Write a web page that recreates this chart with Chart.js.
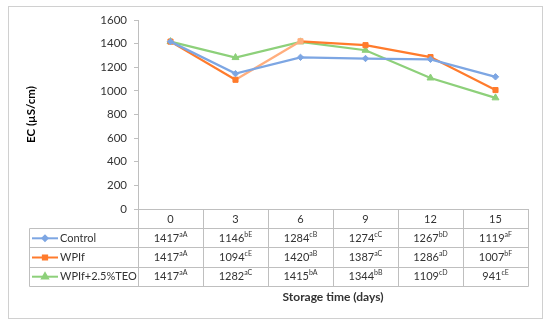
<!DOCTYPE html>
<html><head><meta charset="utf-8">
<script src="https://cdn.jsdelivr.net/npm/chart.js@4.4.0/dist/chart.umd.min.js"></script>
<style>html,body{margin:0;padding:0;background:#fff}#c{display:block}</style>
</head><body>
<div style="width:550px;height:323px"><canvas id="c" width="550" height="323"></canvas></div>
<script>
const categories = ['0','3','6','9','12','15'];
const seriesNames = ['Control','WPIf','WPIf+2.5%TEO'];
const controlValues = [1417,1146,1284,1274,1267,1119];
const wpifValues = [1417,1094,1420,1387,1286,1007];
const teoValues = [1417,1282,1415,1344,1109,941];
const controlLetters = ['aA','bE','cB','cC','bD','aF'];
const wpifLetters = ['aA','cE','aB','aC','aD','bF'];
const teoLetters = ['aA','aC','bA','bB','cD','cE'];
const yTicks = [0,200,400,600,800,1000,1200,1400,1600];
const yTitle = 'EC (µS/cm)';
const xTitle = 'Storage time (days)';

const FONT = 'Lato, "Open Sans", sans-serif';
const GRID = '#bfbfbf';
const TEXT = '#333333';
const colors = ['#7DA6E3','#FF7B2C','#8DD07A'];
const shapes = ['rectRot','rect','triangle'];
const radii = [3.2,3.6,4];
const letters = [controlLetters, wpifLetters, teoLetters];

const tablePlugin = {
  id: 'tablePlugin',
  beforeDraw(chart){
    const ctx = chart.ctx;
    ctx.save();
    ctx.fillStyle = '#fff';
    ctx.fillRect(0,0,chart.width,chart.height);
    ctx.strokeStyle = '#d0d0d0';
    ctx.lineWidth = 1;
    ctx.strokeRect(8.5,6.5,534,312);
    ctx.restore();
  },
  afterDraw(chart){
    const ctx = chart.ctx;
    const ca = chart.chartArea;
    const xs = chart.scales.x;
    const colW = ca.width / categories.length;
    const top = ca.bottom;
    const rowH = 19.2;
    const labelLeft = 29;
    const bottom = top + rowH * 4;
    ctx.save();
    ctx.strokeStyle = GRID;
    ctx.lineWidth = 1;
    ctx.beginPath();
    const ax = Math.round(ca.left) + 0.5;
    ctx.moveTo(ax, top); ctx.lineTo(ax, Math.round(bottom)+0.5);
    for (let i = 1; i <= categories.length; i++){
      const x = Math.round(ca.left + colW * i) + 0.5;
      ctx.moveTo(x, top); ctx.lineTo(x, Math.round(bottom)+0.5);
    }
    for (let r = 1; r <= 4; r++){
      const y = Math.round(top + rowH * r) + 0.5;
      ctx.moveTo(labelLeft + 0.5, y); ctx.lineTo(Math.round(ca.right)+0.5, y);
    }
    ctx.moveTo(labelLeft + 0.5, Math.round(top + rowH)+0.5);
    ctx.lineTo(labelLeft + 0.5, Math.round(bottom)+0.5);
    ctx.stroke();

    ctx.fillStyle = TEXT;
    ctx.textBaseline = 'middle';
    ctx.textAlign = 'center';
    ctx.font = '11px ' + FONT;
    categories.forEach((c,i)=>{
      ctx.fillText(c, xs.getPixelForValue(i), top + rowH/2 + 0.5);
    });
    chart.data.datasets.forEach((ds, r)=>{
      const cy = top + rowH * (r + 1.5) + 0.5;
      ctx.strokeStyle = colors[r];
      ctx.lineWidth = 2;
      ctx.beginPath();
      ctx.moveTo(32, cy); ctx.lineTo(58, cy); ctx.stroke();
      ctx.fillStyle = colors[r];
      Chart.helpers.drawPoint(ctx, {pointStyle: shapes[r], radius: radii[r]-0.6, borderWidth: 1}, 45, cy);
      ctx.fillStyle = TEXT;
      ctx.textAlign = 'left';
      ctx.font = '11px ' + FONT;
      ctx.fillText(seriesNames[r], 60, cy);
      ds.data.forEach((v,i)=>{
        const main = String(v);
        const sup = letters[r][i];
        ctx.font = '11px ' + FONT;
        const w1 = ctx.measureText(main).width;
        ctx.font = '7px ' + FONT;
        const w2 = ctx.measureText(sup).width;
        const cx = xs.getPixelForValue(i);
        const sx = cx - (w1 + w2)/2;
        ctx.font = '11px ' + FONT;
        ctx.fillText(main, sx, cy);
        ctx.font = '7px ' + FONT;
        ctx.fillText(sup, sx + w1, cy - 4);
      });
    });
    ctx.font = 'bold 12px ' + FONT;
    ctx.textAlign = 'center';
    ctx.fillStyle = TEXT;
    ctx.fillText(xTitle, (ca.left + ca.right)/2, 297);
    ctx.font = 'bold 11.5px ' + FONT;
    ctx.translate(31, (ca.top + ca.bottom)/2);
    ctx.rotate(-Math.PI/2);
    ctx.fillStyle = '#000';
    ctx.fillText(yTitle, 0, 0);
    ctx.restore();
  }
};

const mk = (label, data, i, extra) => Object.assign({
  label, data,
  borderColor: colors[i], backgroundColor: colors[i],
  pointBackgroundColor: colors[i], pointBorderColor: colors[i],
  pointStyle: shapes[i], pointRadius: radii[i], pointBorderWidth: 1,
  borderWidth: 2.25, tension: 0, fill: false
}, extra || {});

new Chart(document.getElementById('c'), {
  type: 'line',
  data: {
    labels: categories,
    datasets: [
      mk(seriesNames[0], controlValues, 0),
      mk(seriesNames[1], wpifValues, 1, {
        segment: { borderColor: c => c.p0DataIndex === 1 ? '#FFAE7E' : undefined },
        pointBackgroundColor: wpifValues.map((v,i)=> i===2 ? '#FFAE7E' : colors[1]),
        pointBorderColor: wpifValues.map((v,i)=> i===2 ? '#FFAE7E' : colors[1])
      }),
      mk(seriesNames[2], teoValues, 2)
    ]
  },
  plugins: [tablePlugin],
  options: {
    responsive: false,
    animation: false,
    devicePixelRatio: 1,
    layout: { padding: { top: 20, right: 22, bottom: 0, left: 0 } },
    plugins: { legend: { display: false }, tooltip: { enabled: false } },
    scales: {
      x: {
        type: 'category', offset: true,
        grid: { display: false },
        border: { display: true, color: GRID, width: 1 },
        ticks: { display: false },
        afterFit(s){ s.height = 114; }
      },
      y: {
        min: 0, max: 1600,
        afterBuildTicks(s){ s.ticks = yTicks.map(v=>({value:v})); },
        grid: { drawOnChartArea: false, drawTicks: true, tickLength: 4, color: GRID },
        border: { display: true, color: GRID, width: 1 },
        ticks: { padding: 7, color: TEXT, font: { family: FONT, size: 11.5 }, callback: v => String(v) },
        afterFit(s){ s.width = 138; }
      }
    }
  }
});
</script>
</body></html>
